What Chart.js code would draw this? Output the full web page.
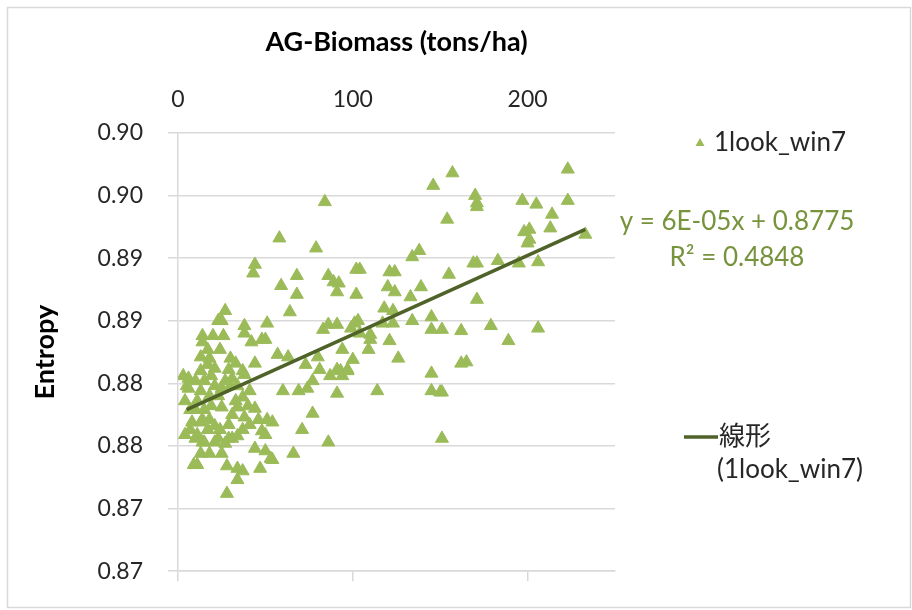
<!DOCTYPE html>
<html>
<head>
<meta charset="utf-8">
<script src="https://cdn.jsdelivr.net/npm/chart.js@4.4.1/dist/chart.umd.min.js"></script>
<style>
  body { margin: 0; background: #fff; }
  canvas { display: block; }
</style>
</head>
<body>
<canvas id="scatter-canvas" width="912" height="610"></canvas>
<script>
// AG-Biomass (tons/ha) vs entropy, one entry per plot
var biomass = [
    6, 6, 10, 3, 5, 8, 7, 10, 15, 14, 10, 14, 21, 23, 13, 15, 11, 14, 20, 26,
    14, 17, 24, 18, 17, 21, 29, 27, 25, 23, 27, 25, 30, 9, 11, 28, 28, 25, 29, 29,
    27, 21, 15, 13, 4, 7, 18, 13, 19, 23, 17, 4, 31, 34, 37, 33, 37, 38, 34, 38,
    37, 34, 44, 44, 50, 53, 54, 34, 37, 34, 47, 48, 50, 51, 54, 38, 38, 42, 48, 50,
    51, 44, 44, 43, 57, 41, 58, 59, 68, 68, 64, 60, 69, 73, 63, 66, 71, 77, 77, 74,
    81, 80, 83, 79, 84, 86, 86, 86, 87, 89, 92, 91, 91, 91, 93, 97, 94, 100, 101, 102,
    102, 103, 99, 104, 110, 104, 94, 97, 91, 109, 110, 114, 117, 121, 123, 118, 123, 121, 124, 120,
    124, 133, 139, 134, 138, 134, 145, 145, 151, 126, 146, 157, 154, 155, 145, 145, 150, 151, 151, 170,
    171, 171, 197, 205, 223, 223, 214, 198, 201, 213, 200, 201, 233, 169, 171, 183, 195, 206, 171, 162,
    179, 189, 206, 162, 165,
    11, 18, 24, 31, 31, 41, 40, 46, 25, 18, 13, 19, 30, 13, 21, 33
];
var entropy = [
    0.8804, 0.8796, 0.8802, 0.8806, 0.8798, 0.8769, 0.8763, 0.8779, 0.8779, 0.8771,
    0.8756, 0.8753, 0.8766, 0.8756, 0.8794, 0.8802, 0.8786, 0.8838, 0.8838, 0.8838,
    0.8833, 0.8827, 0.8827, 0.8820, 0.8815, 0.8812, 0.8811, 0.8802, 0.8796, 0.8850,
    0.8858, 0.8850, 0.8820, 0.8735, 0.8735, 0.8734, 0.8712, 0.8781, 0.8767, 0.8756,
    0.8752, 0.8753, 0.8753, 0.8769, 0.8786, 0.8779, 0.8790, 0.8810, 0.8782, 0.8790,
    0.8763, 0.8759, 0.8804, 0.8798, 0.8789, 0.8786, 0.8810, 0.8807, 0.8781, 0.8773,
    0.8763, 0.8758, 0.8780, 0.8748, 0.8746, 0.8740, 0.8739, 0.8732, 0.8730, 0.8723,
    0.8732, 0.8762, 0.8759, 0.8771, 0.8769, 0.8846, 0.8840, 0.8833, 0.8835, 0.8835,
    0.8848, 0.8816, 0.8895, 0.8888, 0.8823, 0.8794, 0.8916, 0.8878, 0.8886, 0.8871,
    0.8857, 0.8794, 0.8794, 0.8815, 0.8821, 0.8744, 0.8763, 0.8776, 0.8802, 0.8796,
    0.8811, 0.8821, 0.8843, 0.8908, 0.8945, 0.8886, 0.8847, 0.8753, 0.8806, 0.8881,
    0.8880, 0.8873, 0.8847, 0.8792, 0.8810, 0.8810, 0.8827, 0.8819, 0.8848, 0.8891,
    0.8871, 0.8850, 0.8844, 0.8840, 0.8839, 0.8891, 0.8806, 0.8811, 0.8811, 0.8827,
    0.8835, 0.8794, 0.8848, 0.8834, 0.8848, 0.8860, 0.8858, 0.8889, 0.8889, 0.8877,
    0.8873, 0.8869, 0.8877, 0.8901, 0.8906, 0.8850, 0.8853, 0.8843, 0.8843, 0.8820,
    0.8958, 0.8968, 0.8931, 0.8887, 0.8808, 0.8794, 0.8793, 0.8793, 0.8756, 0.8950,
    0.8944, 0.8941, 0.8946, 0.8943, 0.8946, 0.8971, 0.8935, 0.8921, 0.8923, 0.8924,
    0.8912, 0.8915, 0.8919, 0.8896, 0.8896, 0.8898, 0.8896, 0.8897, 0.8867, 0.8842,
    0.8846, 0.8834, 0.8844, 0.8816, 0.8817,
    0.8759, 0.8771, 0.8763, 0.8775, 0.8756, 0.8767, 0.8782, 0.8771, 0.8744, 0.8744,
    0.8744, 0.8806, 0.8798, 0.8821, 0.8798, 0.8816
];

// linear trendline endpoints, as drawn in the original (y = 6E-05x + 0.8775)
var trendX = [5, 233];
var trendY = [0.8779, 0.8923];

var seriesName = '1look_win7';
var trendName = '線形';
var equationText = 'y = 6E-05x + 0.8775';
var r2Text = 'R² = 0.4848';

var pointColor = '#9bbb59';
var trendColor = '#4f6228';
var labelColor = '#77933c';
var gridColor = '#d9d9d9';
var textColor = '#262626';
var fontFamily = 'Lato, "Noto Sans CJK JP", sans-serif';

var points = biomass.map(function(x, i) { return {x: x, y: entropy[i]}; });
var trendPoints = trendX.map(function(x, i) { return {x: x, y: trendY[i]}; });

// frame + side legend, drawn the way the spreadsheet lays them out
var sideLegend = {
    id: 'sideLegend',
    beforeDraw: function(chart) {
        var ctx = chart.ctx;
        ctx.save();
        ctx.fillStyle = '#fff';
        ctx.fillRect(0, 0, chart.width, chart.height);
        ctx.strokeStyle = gridColor;
        ctx.lineWidth = 1.5;
        ctx.strokeRect(7.5, 7.5, 903, 600);
        ctx.restore();
    },
    afterDraw: function(chart) {
        var ctx = chart.ctx;
        ctx.save();
        ctx.font = '26px ' + fontFamily;
        ctx.textBaseline = 'middle';

        // marker entry
        ctx.fillStyle = pointColor;
        ctx.beginPath();
        ctx.moveTo(700, 138);
        ctx.lineTo(704.5, 146);
        ctx.lineTo(695.5, 146);
        ctx.closePath();
        ctx.fill();
        ctx.fillStyle = textColor;
        ctx.textAlign = 'left';
        ctx.fillText(seriesName, 714, 143);

        // trendline label
        ctx.fillStyle = labelColor;
        ctx.textAlign = 'center';
        ctx.fillText(equationText, 737, 222);
        ctx.fillText(r2Text, 737, 258);

        // trendline entry
        ctx.strokeStyle = trendColor;
        ctx.lineWidth = 3.5;
        ctx.beginPath();
        ctx.moveTo(684, 437);
        ctx.lineTo(718, 437);
        ctx.stroke();
        ctx.fillStyle = textColor;
        ctx.textAlign = 'left';
        ctx.fillText(trendName, 719, 437);
        ctx.fillText('(' + seriesName + ')', 717, 470);
        ctx.restore();
    }
};

var tickFont = {family: fontFamily, size: 23};
var titleFont = {family: fontFamily, size: 27, weight: 'bold'};

var myChart = new Chart(document.getElementById('scatter-canvas').getContext('2d'), {
    type: 'scatter',
    data: {
        datasets: [{
            label: trendName + ' (' + seriesName + ')',
            data: trendPoints,
            showLine: true,
            borderColor: trendColor,
            borderWidth: 3.5,
            pointRadius: 0,
            order: 0
        }, {
            label: seriesName,
            data: points,
            pointStyle: 'triangle',
            pointRadius: 7.5,
            backgroundColor: pointColor,
            borderColor: pointColor,
            borderWidth: 1,
            order: 1
        }]
    },
    options: {
        responsive: false,
        animation: false,
        devicePixelRatio: 1,
        layout: {padding: {left: 8, top: 7, right: 297, bottom: 0}},
        plugins: {
            legend: {display: false},
            tooltip: {enabled: false}
        },
        scales: {
            x: {
                type: 'linear',
                position: 'top',
                min: 0,
                max: 250,
                ticks: {stepSize: 100, includeBounds: false, font: tickFont, color: textColor, padding: 12},
                grid: {display: false},
                border: {display: false},
                title: {display: true, text: 'AG-Biomass (tons/ha)', font: titleFont, color: '#000', padding: {top: 19, bottom: 0}},
                afterFit: function(scale) { scale.height = 126; }
            },
            x2: {
                type: 'linear',
                position: 'bottom',
                min: 0,
                max: 250,
                ticks: {stepSize: 100, includeBounds: false, display: false},
                grid: {drawOnChartArea: false, drawTicks: true, tickLength: 10, color: gridColor, lineWidth: 1.5},
                border: {display: true, color: gridColor, width: 1.5},
                afterFit: function(scale) { scale.height = 23; }
            },
            y: {
                min: 0.865,
                max: 0.9,
                ticks: {
                    stepSize: 0.005,
                    font: tickFont,
                    color: textColor,
                    padding: 25,
                    callback: function(v) { return (Math.round(v * 100 + 1e-6) / 100).toFixed(2); }
                },
                grid: {color: gridColor, lineWidth: 1.5, tickLength: 10},
                border: {display: true, color: gridColor, width: 1.5},
                title: {display: true, text: 'Entropy', font: titleFont, color: '#000', padding: {top: 21, bottom: 0}},
                afterFit: function(scale) { scale.width = 170; }
            }
        }
    },
    plugins: [sideLegend]
});
</script>
</body>
</html>
